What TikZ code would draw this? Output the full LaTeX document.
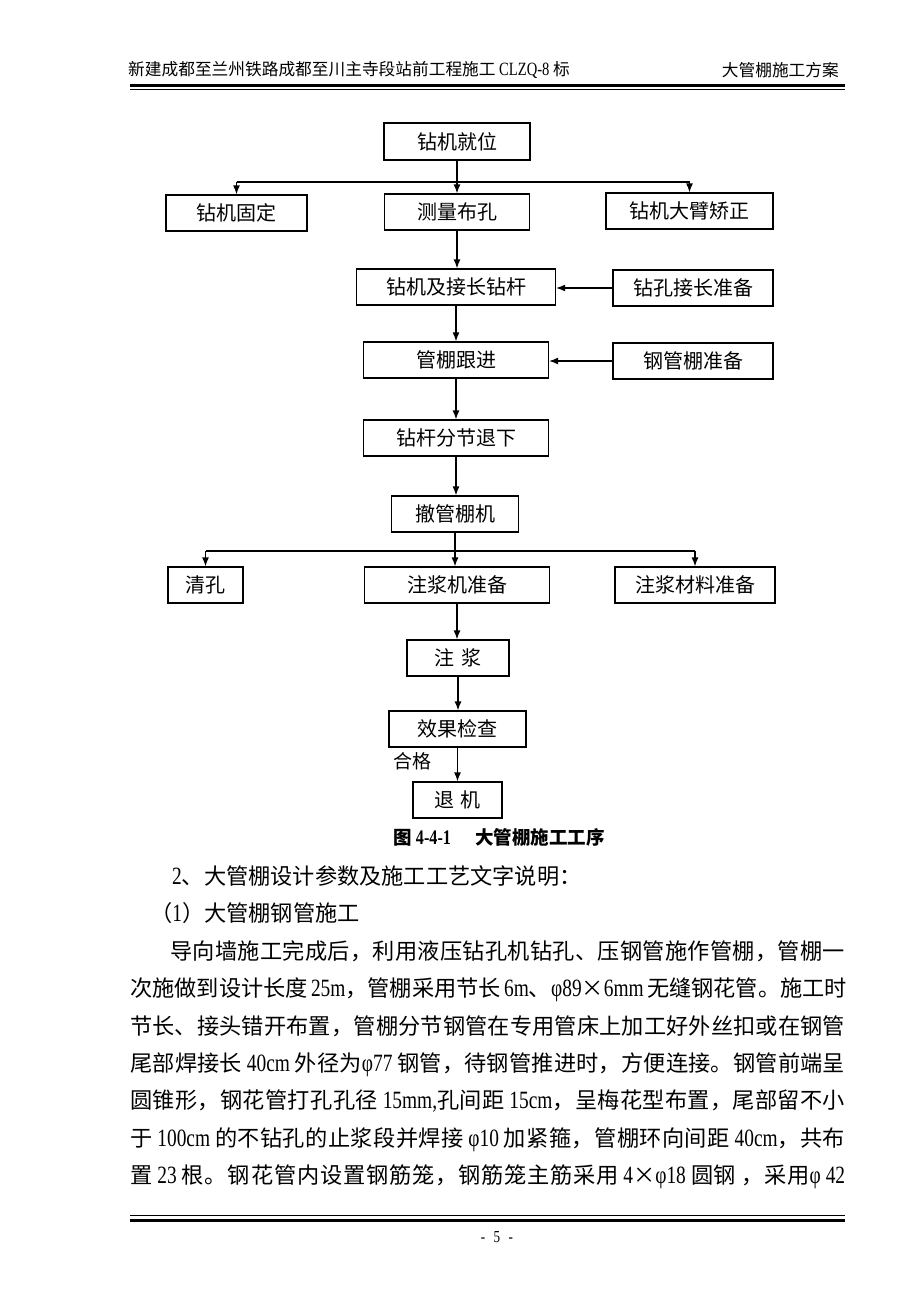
\documentclass[tikz,border=0pt]{standalone}
\usepackage{fontspec}
\setmainfont{Noto Sans CJK SC}
\newfontfamily\latf{Liberation Serif}[FakeStretch=0.78,Scale=1.12]
\newcommand\lat[1]{{\latf{}#1}}
\usetikzlibrary{arrows.meta}
\newcount\cjkcnt
\cjkcnt="3000
\loop \XeTeXcharclass\cjkcnt=250 \advance\cjkcnt by 1 \ifnum\cjkcnt<"A000 \repeat
\cjkcnt="FF00
\loop \XeTeXcharclass\cjkcnt=250 \advance\cjkcnt by 1 \ifnum\cjkcnt<"FFF0 \repeat
\XeTeXinterchartokenstate=1
\newcommand\cjkglue{\hskip 0pt plus 8pt\relax}
\XeTeXinterchartoks 250 250 = {\cjkglue}
\XeTeXinterchartoks 0 250 = {\cjkglue}
\XeTeXinterchartoks 250 0 = {\cjkglue}
\begin{document}
\begin{tikzpicture}[x=1pt,y=-1pt,
  fbox/.style={draw, line width=1.2pt, inner sep=0pt, font=\fontsize{20}{24}\selectfont},
  arr/.style={line width=1.3pt, -{Latex[length=9pt,width=7pt]}},
  conn/.style={line width=1.3pt},
  hdr/.style={inner sep=0pt, font=\fontsize{16.7}{19}\selectfont},
  body/.style={anchor=base west, inner sep=0pt, font=\fontsize{22.2}{27}\selectfont},
  lbl/.style={inner sep=0pt, font=\fontsize{19}{22}\selectfont}]
\fill[white] (0,0) rectangle (920,1302);
\useasboundingbox (0,0) rectangle (920,1302);
% header
\node[hdr, anchor=west] (h1) at (128,70) {新建成都至兰州铁路成都至川主寺段站前工程施工\lat{ CLZQ-8 }标};
\node[hdr, anchor=east] (h2) at (839,70) {大管棚施工方案};
\draw[line width=3pt] (130,85) -- (845,85);
\draw[line width=0.9pt] (130,89.5) -- (845,89.5);
% flowchart nodes
\node[fbox, minimum width=146, minimum height=37] (A) at (457,141.5) {钻机就位};
\node[fbox, minimum width=141, minimum height=36] (C) at (236.5,213) {钻机固定};
\node[fbox, minimum width=145, minimum height=36] (B) at (457,212) {测量布孔};
\node[fbox, minimum width=167, minimum height=36] (E) at (689.5,211) {钻机大臂矫正};
\node[fbox, minimum width=199, minimum height=36] (D) at (456,287) {钻机及接长钻杆};
\node[fbox, minimum width=160, minimum height=36] (F) at (693,288) {钻孔接长准备};
\node[fbox, minimum width=185, minimum height=36] (G) at (456,360) {管棚跟进};
\node[fbox, minimum width=160, minimum height=36] (H) at (693,361) {钢管棚准备};
\node[fbox, minimum width=185, minimum height=36] (I) at (456,438) {钻杆分节退下};
\node[fbox, minimum width=127, minimum height=36] (J) at (455,514) {撤管棚机};
\node[fbox, minimum width=75, minimum height=36] (K) at (205.5,585) {清孔};
\node[fbox, minimum width=185, minimum height=36] (L) at (457,585) {注浆机准备};
\node[fbox, minimum width=160, minimum height=36] (M) at (695,585) {注浆材料准备};
\node[fbox, minimum width=102, minimum height=36] (N) at (458,658) {注\hspace{0.4em}浆};
\node[fbox, minimum width=137, minimum height=36] (O) at (457.5,729) {效果检查};
\node[fbox, minimum width=89, minimum height=36] (P) at (457.5,800) {退\hspace{0.3em}机};
\node[lbl] (q) at (412,761) {合格};
% connectors
\draw[arr] (A.south) -- (A.south |- B.north);
\coordinate (j1) at (457,182);
\draw[conn] (j1 -| C.north) -- (j1 -| E.north);
\draw[arr] (j1 -| C.north) -- (C.north);
\draw[arr] (j1 -| E.north) -- (E.north);
\draw[arr] (B.south) -- (B.south |- D.north);
\draw[arr] (F.west) -- (F.west -| D.east);
\draw[arr] (D.south) -- (D.south |- G.north);
\draw[arr] (H.west) -- (H.west -| G.east);
\draw[arr] (G.south) -- (G.south |- I.north);
\draw[arr] (I.south) -- (I.south |- J.north);
\draw[arr] (J.south) -- (J.south |- L.north);
\coordinate (j2) at (457,551);
\draw[conn] (j2 -| K.north) -- (j2 -| M.north);
\draw[arr] (j2 -| K.north) -- (K.north);
\draw[arr] (j2 -| M.north) -- (M.north);
\draw[arr] (L.south) -- (L.south |- N.north);
\draw[arr] (N.south) -- (N.south |- O.north);
\draw[arr] (O.south) -- (O.south |- P.north);
% caption
\node[inner sep=0pt, font=\bfseries\fontsize{18.5}{22}\selectfont] (cap) at (499,837) {图\lat{ 4-4-1}\hspace{1.3em}大管棚施工工序};
% body text
\node[body] (t1) at (172,884) {\lat{2}、大管棚设计参数及施工工艺文字说明：};
\node[body] (t2) at (150,921) {（\lat{1}）大管棚钢管施工};
\node[body] (t3) at (170,959) {\makebox[675pt][s]{导向墙施工完成后，利用液压钻孔机钻孔、压钢管施作管棚，管棚一}};
\node[body] (t4) at (130,996) {\makebox[715pt][s]{次施做到设计长度\lat{ 25m}，管棚采用节长\lat{ 6m}、\lat{φ89}×\lat{6mm }无缝钢花管。施工时}};
\node[body] (t5) at (130,1034) {\makebox[715pt][s]{节长、接头错开布置，管棚分节钢管在专用管床上加工好外丝扣或在钢管}};
\node[body] (t6) at (130,1071) {\makebox[715pt][s]{尾部焊接长\lat{ 40cm }外径为\lat{φ77 }钢管，待钢管推进时，方便连接。钢管前端呈}};
\node[body] (t7) at (130,1108) {\makebox[715pt][s]{圆锥形，钢花管打孔孔径\lat{ 15mm,}孔间距\lat{ 15cm}，呈梅花型布置，尾部留不小}};
\node[body] (t8) at (130,1146) {\makebox[715pt][s]{于\lat{ 100cm }的不钻孔的止浆段并焊接\lat{ φ10 }加紧箍，管棚环向间距\lat{ 40cm}，共布}};
\node[body] (t9) at (130,1183) {\makebox[715pt][s]{置\lat{ 23 }根。钢花管内设置钢筋笼，钢筋笼主筋采用\lat{ 4}×\lat{φ18 }圆钢\lat{ }，采用\lat{φ 42}}};
% footer
\draw[line width=0.9pt] (130,1215.5) -- (845,1215.5);
\draw[line width=3pt] (130,1220) -- (845,1220);
\node[inner sep=0pt, font=\fontsize{15}{18}\selectfont] (pg) at (497,1237) {\lat{-\hspace{0.5em}5\hspace{0.5em}-}};
\end{tikzpicture}
\end{document}
